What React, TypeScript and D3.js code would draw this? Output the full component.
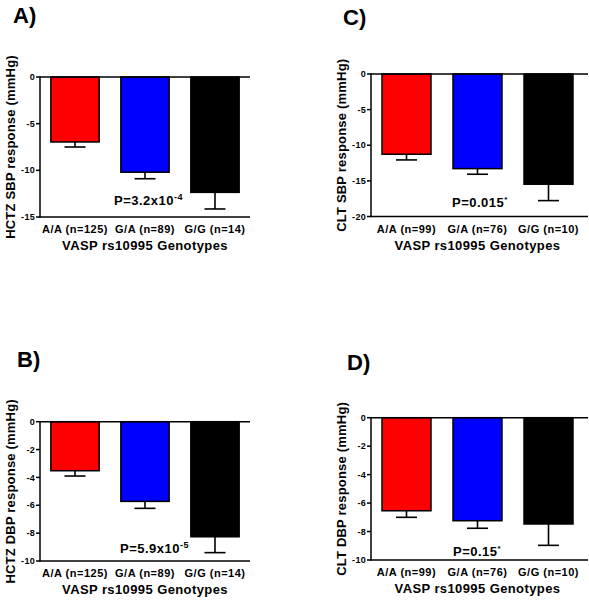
import React from "react";
import * as d3 from "d3";

const categoriesHCTZ = ["A/A (n=125)", "G/A (n=89)", "G/G (n=14)"];
const categoriesCLT = ["A/A (n=99)", "G/A (n=76)", "G/G (n=10)"];
const barColors = ["#ff0000", "#0000ff", "#000000"];

const hctzSbpMean = [-6.96, -10.2, -12.36];
const hctzSbpSem = [0.54, 0.7, 1.78];
const hctzDbpMean = [-3.52, -5.72, -8.26];
const hctzDbpSem = [0.38, 0.5, 1.14];
const cltSbpMean = [-11.26, -13.28, -15.47];
const cltSbpSem = [0.8, 0.79, 2.3];
const cltDbpMean = [-6.54, -7.24, -7.47];
const cltDbpSem = [0.46, 0.53, 1.5];

const ticksA = [0, -5, -10, -15];
const ticksB = [0, -2, -4, -6, -8, -10];
const ticksC = [0, -5, -10, -15, -20];
const ticksD = [0, -2, -4, -6, -8, -10];

const xTitle = "VASP rs10995 Genotypes";
const FONT = "'Liberation Sans', Arial, Helvetica, sans-serif";

type PanelProps = {
  label: string;
  labelX: number;
  labelY: number;
  yTitle: string;
  categories: string[];
  means: number[];
  sems: number[];
  ticks: number[];
  left: number;
  right: number;
  bandRight: number;
  top: number;
  bottom: number;
  pMain: string;
  pSup: string;
  pSupSize: number;
  pX: number;
  pY: number;
};

function Panel(p: PanelProps) {
  const y = d3
    .scaleLinear()
    .domain([d3.min(p.ticks) as number, 0])
    .range([p.bottom, p.top]);
  const x = d3
    .scaleBand<string>()
    .domain(p.categories)
    .range([p.left, p.bandRight])
    .paddingInner(0.31)
    .paddingOuter(0.155);
  const bw = x.bandwidth();
  const capW = 21;
  const minV = d3.min(p.ticks) as number;
  return (
    <g fontFamily={FONT} fontWeight="bold" fill="#000">
      <text x={p.labelX} y={p.labelY} fontSize={22}>
        {p.label}
      </text>
      {p.categories.map((c, i) => {
        const x0 = x(c) as number;
        const yv = y(p.means[i]);
        const ye = y(p.means[i] - p.sems[i]);
        const cx = x0 + bw / 2;
        return (
          <g key={c}>
            <line x1={cx} x2={cx} y1={yv} y2={ye} stroke="#000" strokeWidth={1.6} />
            <line x1={cx - capW / 2} x2={cx + capW / 2} y1={ye} y2={ye} stroke="#000" strokeWidth={1.6} />
            <rect
              x={x0}
              y={y(0)}
              width={bw}
              height={yv - y(0)}
              fill={barColors[i]}
              stroke="#000"
              strokeWidth={1.5}
            />
          </g>
        );
      })}
      <line x1={p.left} x2={p.right} y1={y(0)} y2={y(0)} stroke="#000" strokeWidth={1.5} />
      <line x1={p.left} x2={p.right} y1={y(minV)} y2={y(minV)} stroke="#000" strokeWidth={1.5} />
      <line x1={p.left} x2={p.left} y1={y(0) - 0.75} y2={y(minV) + 0.75} stroke="#000" strokeWidth={1.5} />
      {p.ticks.map((t) => (
        <g key={t}>
          <line x1={p.left - 4} x2={p.left} y1={y(t)} y2={y(t)} stroke="#000" strokeWidth={1.5} />
          <text x={p.left - 5} y={y(t)} dy="0.35em" textAnchor="end" fontSize={9} letterSpacing={0.3}>
            {t === 0 ? "0" : "-" + Math.abs(t)}
          </text>
        </g>
      ))}
      {p.categories.map((c) => (
        <text
          key={c}
          x={(x(c) as number) + bw / 2}
          y={p.bottom + 16}
          textAnchor="middle"
          fontSize={11}
          letterSpacing={0.5}
        >
          {c}
        </text>
      ))}
      <text
        x={(p.left + p.bandRight) / 2}
        y={p.bottom + 33}
        textAnchor="middle"
        fontSize={13}
        letterSpacing={0.4}
      >
        {xTitle}
      </text>
      <text
        transform={`translate(${p.left - 25},${(p.top + p.bottom) / 2}) rotate(-90)`}
        textAnchor="middle"
        fontSize={13}
        letterSpacing={0.2}
      >
        {p.yTitle}
      </text>
      <text x={p.pX} y={p.pY} fontSize={13} letterSpacing={0.5}>
        {p.pMain}
        <tspan dy={-5} fontSize={p.pSupSize}>
          {p.pSup}
        </tspan>
      </text>
    </g>
  );
}

export default function App() {
  return (
    <svg width={589} height={600} style={{ position: "absolute", left: 0, top: 0, background: "#fff" }}>
      <rect width={589} height={600} fill="#fff" />
      <Panel
        label="A)"
        labelX={13}
        labelY={23}
        yTitle="HCTZ SBP response (mmHg)"
        categories={categoriesHCTZ}
        means={hctzSbpMean}
        sems={hctzSbpSem}
        ticks={ticksA}
        left={40}
        right={250}
        bandRight={250}
        top={77}
        bottom={217}
        pMain="P=3.2x10"
        pSup="-4"
        pSupSize={9}
        pX={114}
        pY={205}
      />
      <Panel
        label="C)"
        labelX={343}
        labelY={25}
        yTitle="CLT SBP response (mmHg)"
        categories={categoriesCLT}
        means={cltSbpMean}
        sems={cltSbpSem}
        ticks={ticksC}
        left={371}
        right={588}
        bandRight={584}
        top={74}
        bottom={216.5}
        pMain="P=0.015"
        pSup="*"
        pSupSize={8}
        pX={452}
        pY={207}
      />
      <Panel
        label="B)"
        labelX={17}
        labelY={367}
        yTitle="HCTZ DBP response (mmHg)"
        categories={categoriesHCTZ}
        means={hctzDbpMean}
        sems={hctzDbpSem}
        ticks={ticksB}
        left={40}
        right={250}
        bandRight={250}
        top={421.7}
        bottom={561}
        pMain="P=5.9x10"
        pSup="-5"
        pSupSize={9}
        pX={120}
        pY={553}
      />
      <Panel
        label="D)"
        labelX={347}
        labelY={370}
        yTitle="CLT DBP response (mmHg)"
        categories={categoriesCLT}
        means={cltDbpMean}
        sems={cltDbpSem}
        ticks={ticksD}
        left={371}
        right={588}
        bandRight={584}
        top={417.7}
        bottom={560}
        pMain="P=0.15"
        pSup="*"
        pSupSize={8}
        pX={453}
        pY={556}
      />
    </svg>
  );
}
